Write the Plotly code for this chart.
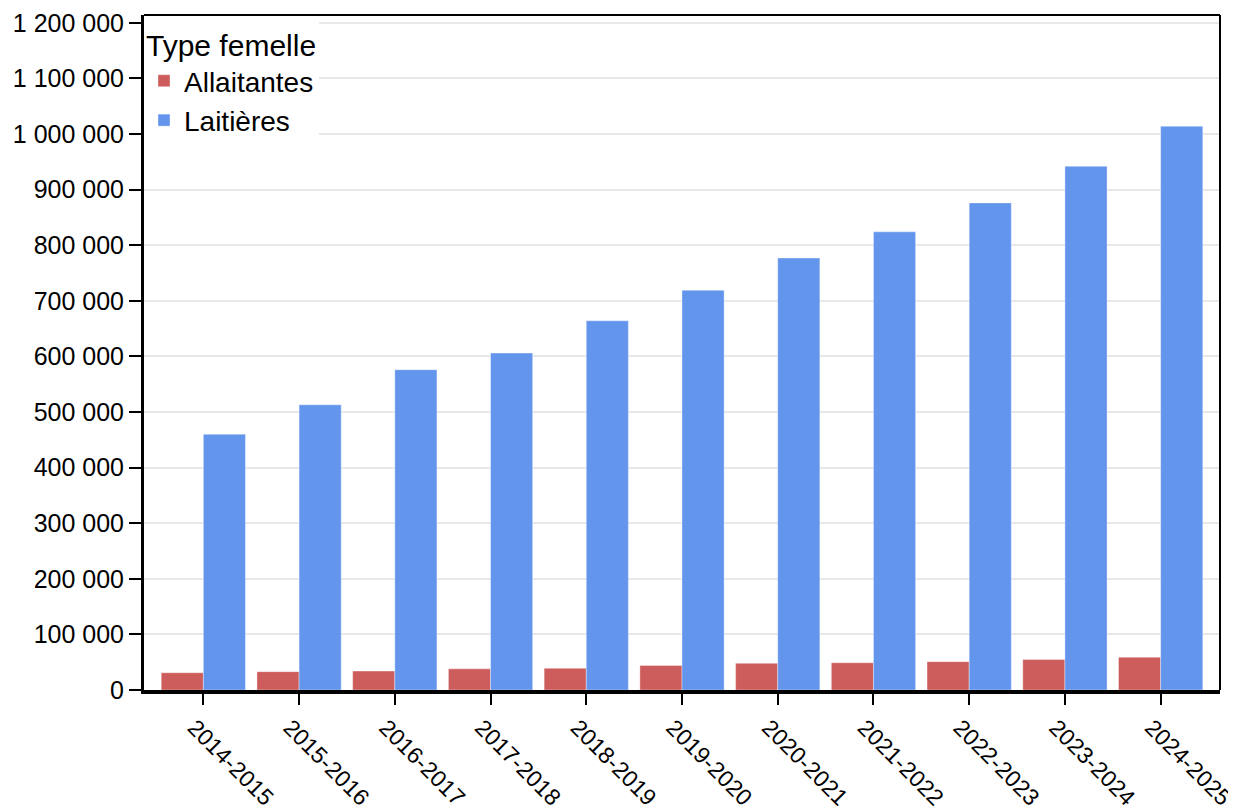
import plotly.graph_objects as go

categories = ["2014-2015", "2015-2016", "2016-2017", "2017-2018", "2018-2019",
              "2019-2020", "2020-2021", "2021-2022", "2022-2023", "2023-2024", "2024-2025"]
allaitantes = [31000, 33000, 34000, 38000, 39000, 44000, 48000, 49000, 51000, 55000, 59000]
laitieres = [460000, 513000, 576000, 606000, 664000, 719000, 777000, 824000, 876000, 942000, 1014000]
y_ticks = [0, 100000, 200000, 300000, 400000, 500000, 600000, 700000, 800000,
           900000, 1000000, 1100000, 1200000]

FONT = "Liberation Sans, Arial, sans-serif"

fig = go.Figure()
fig.add_trace(go.Bar(name="Allaitantes", x=categories, y=allaitantes,
                     marker=dict(color="#CD5C5C", line=dict(width=0.6, color="rgba(255,255,255,0.6)"))))
fig.add_trace(go.Bar(name="Laitières", x=categories, y=laitieres,
                     marker=dict(color="#6495ED", line=dict(width=0.6, color="rgba(255,255,255,0.6)"))))

fig.update_layout(
    width=1236, height=810,
    margin=dict(l=136, r=24, t=7, b=128),
    barmode="group", bargap=0.12, bargroupgap=0,
    plot_bgcolor="white", paper_bgcolor="white",
    separators=", ",
    font=dict(family=FONT, color="black", size=25),
    legend=dict(
        title=dict(text="Type femelle", font=dict(size=30, family=FONT)),
        font=dict(size=28, family=FONT),
        x=0.0, y=0.997, xanchor="left", yanchor="top",
        bgcolor="white", borderwidth=0, tracegroupgap=0,
    ),
    showlegend=True,
)
fig.update_xaxes(
    range=[-0.62, 10.62], automargin=False,
    tickangle=45, tickfont=dict(size=23), ticklabelshift=-9,
    showline=True, linecolor="black", linewidth=4,
    ticks="outside", ticklen=11, tickwidth=2, tickcolor="black",
    showgrid=False,
)
fig.update_yaxes(
    range=[0, 1214000], automargin=False,
    tickvals=y_ticks, tickformat=",d",
    tickfont=dict(size=25),
    showline=True, linecolor="black", linewidth=3,
    ticks="outside", ticklen=12, tickwidth=2, tickcolor="black",
    showgrid=True, gridcolor="#E8E8E8", gridwidth=1.5,
    zeroline=False,
)
# thin frame lines on top and right
fig.add_shape(type="line", xref="paper", yref="paper", x0=0, x1=1, y0=1, y1=1,
              line=dict(color="black", width=2))
fig.add_shape(type="line", xref="paper", yref="paper", x0=1, x1=1, y0=0, y1=1,
              line=dict(color="black", width=2))

fig.write_html("out.html")
